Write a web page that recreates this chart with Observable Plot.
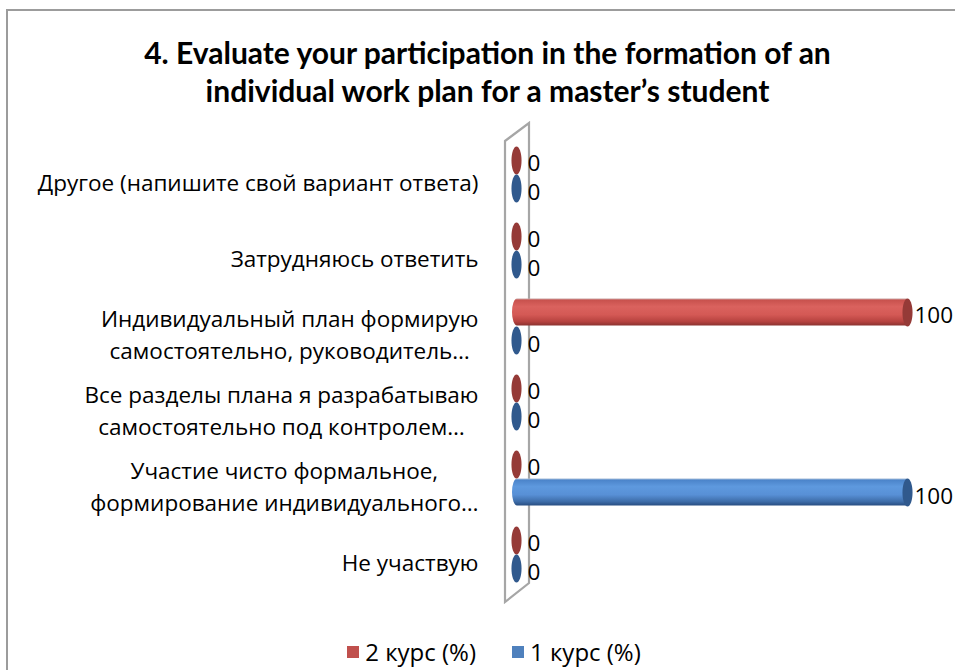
<!DOCTYPE html>
<html>
<head>
<meta charset="utf-8">
<script src="https://cdn.jsdelivr.net/npm/d3@7"></script>
<script src="https://cdn.jsdelivr.net/npm/@observablehq/plot@0.6"></script>
<style>
  html, body { margin: 0; padding: 0; background: #fff; }
  body { width: 955px; height: 670px; overflow: hidden; position: relative; font-family: "Open Sans", sans-serif; }
  #frame { position: absolute; left: 6px; top: 9px; width: 1100px; height: 800px; border: 2px solid #9c9c9c; box-sizing: border-box; }
  #title { position: absolute; left: 0; top: 33px; width: 975px; text-align: center; font: bold 30px/38px Lato, "Open Sans", sans-serif; color: #000; }
  #chart { position: absolute; left: 0; top: 120px; }
  #legend { position: absolute; left: 0; top: 636px; width: 988px; display: flex; justify-content: center; gap: 36px; font-size: 24px; line-height: 32px; color: #000; }
  .item { display: flex; align-items: center; gap: 6px; }
  .sw { width: 12px; height: 12px; display: inline-block; }
</style>
</head>
<body>
<div id="frame"></div>
<div id="title">4. Evaluate your participation in the formation of an<br>individual work plan for a master’s student</div>
<div id="chart"></div>
<div id="legend"></div>
<script>
// ---- data ----
const categories = [
  "Другое (напишите свой вариант ответа)",
  "Затрудняюсь ответить",
  "Индивидуальный план формирую самостоятельно, руководитель…",
  "Все разделы плана я разрабатываю самостоятельно под контролем…",
  "Участие чисто формальное, формирование индивидуального…",
  "Не участвую"
];
const categoryLabels = [
  "Другое (напишите свой вариант ответа)",
  "Затрудняюсь ответить",
  "Индивидуальный план формирую\nсамостоятельно, руководитель…",
  "Все разделы плана я разрабатываю\nсамостоятельно под контролем…",
  "Участие чисто формальное,\nформирование индивидуального…",
  "Не участвую"
];
const seriesNames = ["2 курс (%)", "1 курс (%)"];
const course2 = [0, 0, 100, 0, 0, 0];
const course1 = [0, 0, 0, 0, 100, 0];
const legendColors = ["#c0504d", "#4f81bd"];

// ---- table ----
const rows2 = categories.map((c, i) => ({category: c, value: course2[i]}));
const rows1 = categories.map((c, i) => ({category: c, value: course1[i]}));
const labelRows = categories.map((c, i) => ({category: c, label: categoryLabels[i]}));

const W = 955, H = 505, MT = 13, MB = 31, ML = 516, MR = 48;
const bw = (H - MT - MB) / categories.length;
const thick = 28;
const FS = 22.5;

const ellipse = {
  draw(ctx, size) {
    const r = Math.sqrt(size / Math.PI), ry = r, rx = r * 0.36, k = 0.5522847498;
    ctx.moveTo(rx, 0);
    ctx.bezierCurveTo(rx, ry * k, rx * k, ry, 0, ry);
    ctx.bezierCurveTo(-rx * k, ry, -rx, ry * k, -rx, 0);
    ctx.bezierCurveTo(-rx, -ry * k, -rx * k, -ry, 0, -ry);
    ctx.bezierCurveTo(rx * k, -ry, rx, -ry * k, rx, 0);
    ctx.closePath();
  }
};

const valueText = (rows, dy) => [
  Plot.text(rows.filter(d => d.value === 0), {x: "value", y: "category", text: d => String(d.value),
    dy, dx: 11, textAnchor: "start", fontSize: FS, fill: "#000"}),
  Plot.text(rows.filter(d => d.value > 0), {x: "value", y: "category", text: d => String(d.value),
    dy, dx: 7, textAnchor: "start", fontSize: FS, fill: "#000"})
];

const plot = Plot.plot({
  width: W, height: H,
  marginTop: MT, marginBottom: MB, marginLeft: ML, marginRight: MR,
  x: {domain: [0, 100], axis: null},
  y: {domain: categories, axis: null, padding: 0},
  style: {fontFamily: "'Open Sans', sans-serif", fontSize: FS + "px", color: "#000", background: "transparent"},
  marks: [
    Plot.text(labelRows, {y: "category", text: "label", frameAnchor: "left", textAnchor: "end",
      dx: -38, dy: 6, lineHeight: 1.45, fontSize: FS, fill: "#000"}),
    Plot.barX(rows2.filter(d => d.value > 0), {x1: 0, x2: "value", y: "category",
      fill: "url(#gRed)", insetTop: bw / 2 - thick, insetBottom: bw / 2,
      insetLeft: -4, insetRight: -4, rx: 5, ry: 14}),
    Plot.barX(rows1.filter(d => d.value > 0), {x1: 0, x2: "value", y: "category",
      fill: "url(#gBlue)", insetTop: bw / 2, insetBottom: bw / 2 - thick,
      insetLeft: -4, insetRight: -4, rx: 5, ry: 14}),
    Plot.dot(rows2, {x: "value", y: "category", dy: -thick / 2, r: 14, symbol: ellipse,
      fill: "#953a37", stroke: "none"}),
    Plot.dot(rows1, {x: "value", y: "category", dy: thick / 2, r: 14, symbol: ellipse,
      fill: "#30598d", stroke: "none"}),
    ...valueText(rows2, -thick / 2 + 3),
    ...valueText(rows1, thick / 2 + 4)
  ]
});

document.getElementById("chart").appendChild(plot);

// gradients for cylinder look
const svg = d3.select(plot);
const defs = svg.insert("defs", ":first-child");
function grad(id, stops) {
  const g = defs.append("linearGradient").attr("id", id)
    .attr("x1", 0).attr("y1", 0).attr("x2", 0).attr("y2", 1);
  stops.forEach(([o, c]) => g.append("stop").attr("offset", o).attr("stop-color", c));
}
grad("gRed", [[0, "#c9a6a5"], [0.07, "#c9524e"], [0.3, "#da625e"], [0.6, "#d45955"], [0.85, "#b6423f"], [1, "#8a3230"]]);
grad("gBlue", [[0, "#a9bfd9"], [0.07, "#4c85cb"], [0.3, "#5e99de"], [0.6, "#5890d6"], [0.85, "#3e6da9"], [1, "#284d80"]]);

// back wall (parallelogram) positioned from scales
const xs = plot.scale("x"), ys = plot.scale("y");
const x0 = xs.apply(0);
const [r0, r1] = ys.range;
svg.insert("path", "g")
  .attr("d", `M${x0 - 11},${r0 + 8}L${x0 + 13},${r0 - 10}L${x0 + 13},${r1 - 11}L${x0 - 11},${r1 + 8}Z`)
  .attr("fill", "none").attr("stroke", "#a6a6a6").attr("stroke-width", 2.2);

// center lines of wrapped category labels within their right-aligned block
const labelG = plot.querySelectorAll('g[aria-label="text"]')[0];
labelG.querySelectorAll("text").forEach(t => {
  const w = t.getBBox().width;
  t.setAttribute("text-anchor", "middle");
  const tr = t.getAttribute("transform") || "";
  t.setAttribute("transform", tr + ` translate(${-w / 2},0)`);
});

// legend
const legend = d3.select("#legend");
seriesNames.forEach((s, i) => {
  const it = legend.append("div").attr("class", "item");
  it.append("span").attr("class", "sw").style("background", legendColors[i]);
  it.append("span").text(s);
});
</script>
</body>
</html>
